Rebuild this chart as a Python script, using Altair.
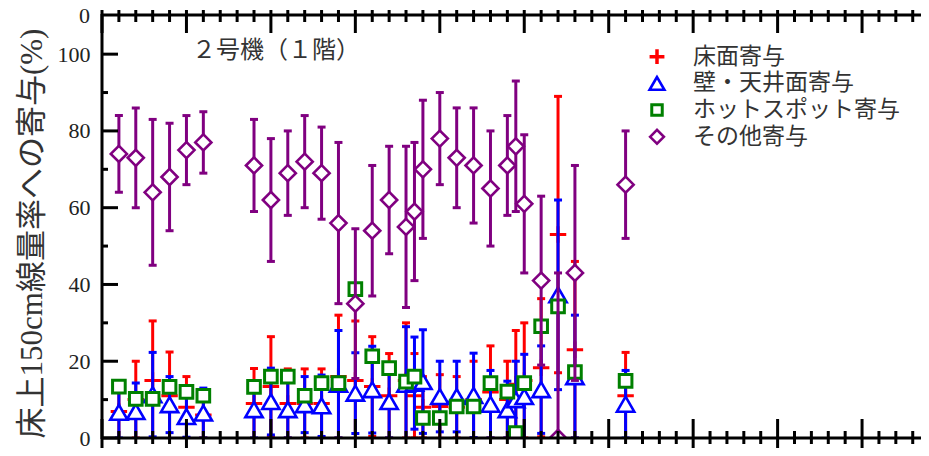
import altair as alt
import pandas as pd

# ---------------- data ----------------
X = [1, 2, 3, 4, 5, 6, 9, 10, 11, 12, 13, 14, 15, 16, 17, 18, 18.5, 19, 20, 21, 22,
     23, 24, 24.5, 25, 26, 27, 28, 31]

floor_v = [6.9, 10, 15, 11, 8, 6, 9, 13.4, 9, 9, 9, 16, 15, 13.4, 11, 15, 11, 8, 8.2,
           8, 10, 12, 10, 14, 15, 18.3, 53, 23, 11]
floor_e = [7, 10, 15.5, 11.4, 8, 6, 9.1, 13, 9, 9, 9, 16, 15.5, 13, 11, 15, 11, 8, 8.3,
           8, 10, 12, 10, 14, 15, 18, 36, 23, 11.3]

wall_v = [6.7, 6.9, 11.3, 8.7, 5.6, 6.5, 7.4, 9.5, 7.4, 8.7, 8.4, 14, 11.7, 12.6, 9.5,
          14, 14.3, 14.7, 10.8, 10.8, 11.1, 8.8, 7.4, 10, 10.8, 12.6, 37.3, 16, 8.8]
wall_e = [6.7, 7.4, 11, 7.3, 5.4, 6.5, 7.4, 8.7, 7.4, 7.3, 8, 14, 10.5, 11.3, 9.5,
          15, 12, 13.5, 9.2, 9.2, 11, 8.8, 7.4, 10, 11, 11.4, 24.7, 16, 8.8]

hot_v = [13.4, 10.2, 10.2, 13.3, 12, 11, 13.3, 16, 16, 11, 14.3, 14.3, 38.8, 21.3,
         18.2, 14.7, 16, 5.2, 5.2, 8.2, 8.2, 14.3, 12.1, 1.3, 14.3, 29.1, 34.3, 17.2, 14.9]

other_v = [74, 73, 64, 68, 75, 77, 71, 62, 69, 72, 69, 56, 35, 54, 62, 55, 59, 70, 78,
           73, 71, 65, 71, 76, 61, 41, 0, 43, 66]
other_e = [10, 13, 19, 14, 9, 8, 12, 16, 11, 12, 12, 21, 19.5, 17, 14, 21, 18, 18, 12,
           13, 15, 15, 13, 17, 18, 22, 43, 28, 14]

series_names = ["床面寄与", "壁・天井面寄与", "ホットスポット寄与", "その他寄与"]
series_colors = ["#ff0000", "#0000ff", "#008000", "#800080"]
panel_label = "２号機（１階）"
y_title = "床上150cm線量率への寄与(%)"
y_labels = [0, 20, 40, 60, 80, 100]
y_minor = [10, 30, 50, 70, 90]
top_label = "0"

# ---------------- layout ----------------
W, H = 819, 423
XMAX, YMAX = 48.49, 110.2
SERIF = "Liberation Serif"
CJK = "Liberation Serif, Noto Sans CJK JP"
PLUS = "M-1,0H1M0,-1V1"

xs = alt.Scale(domain=[0, XMAX], nice=False, zero=False)
ys = alt.Scale(domain=[0, YMAX], nice=False, zero=False)
yaxis = alt.Axis(values=y_labels, ticks=False, domain=False, grid=False,
                 labelFont=SERIF, labelFontSize=22, labelColor="#222",
                 labelPadding=12, title=y_title, titleFont=CJK, titleFontSize=31,
                 titleFontWeight="normal", titleColor="#333", titleAngle=270,
                 titleX=-70, titleY=218, titleAlign="center", titleBaseline="middle")


def xe(field="x"):
    return alt.X(f"{field}:Q", scale=xs, axis=None)


def ye(field):
    return alt.Y(f"{field}:Q", scale=ys, axis=yaxis)


def series(vals, errs, color, shape, size, sw, fill, bars=True):
    df = pd.DataFrame({"x": X, "v": vals})
    if errs is not None:
        df["lo"] = [v - e for v, e in zip(vals, errs)]
        df["hi"] = [v + e for v, e in zip(vals, errs)]
    base = alt.Chart(df)
    layers = []
    if bars:
        layers.append(base.mark_rule(color=color, strokeWidth=3, clip=True)
                      .encode(x=xe(), y=ye("lo"), y2="hi:Q"))
        for f in ["lo", "hi"]:
            layers.append(base.mark_tick(orient="horizontal", color=color, size=8,
                                         thickness=3, clip=True, opacity=1)
                          .encode(x=xe(), y=ye(f)))
    pm = dict(shape=shape, size=size, strokeWidth=sw, stroke=color, clip=True,
              opacity=1, filled=False)
    if fill:
        pm["fill"] = "white"
        pm["fillOpacity"] = 1
    layers.append(base.mark_point(**pm).encode(x=xe(), y=ye("v")))
    return layers


layers = []
layers += series(floor_v, floor_e, series_colors[0], PLUS, 270, 3, False)
layers += series(wall_v, wall_e, series_colors[1], "triangle-up", 300, 2.6, True)
layers += series(hot_v, None, series_colors[2], "square", 160, 3, True, bars=False)
layers += series(other_v, other_e, series_colors[3], "diamond", 260, 2.6, True)

# ---------------- frame & ticks ----------------
one = pd.DataFrame({"a": [0]})
frame = alt.Chart(one)
layers.append(frame.mark_rule(color="black", strokeWidth=3).encode(
    x=alt.value(0), x2=alt.value(W), y=alt.value(0)))
layers.append(frame.mark_rule(color="black", strokeWidth=3).encode(
    x=alt.value(0), x2=alt.value(W), y=alt.value(H)))
layers.append(frame.mark_rule(color="black", strokeWidth=3).encode(
    x=alt.value(0), y=alt.value(-1), y2=alt.value(H + 1)))

xt = list(range(0, 49))
minor_x = pd.DataFrame({"t": [t for t in xt if t % 5 != 0]})
major_x = pd.DataFrame({"t": [t for t in xt if t % 5 == 0]})
for df, (b0, b1), (t0, t1) in [(minor_x, (-7, 6), (-5, 7)), (major_x, (-19, 18), (-5, 18))]:
    c = alt.Chart(df)
    layers.append(c.mark_rule(color="black", strokeWidth=3).encode(
        x=xe("t"), y=alt.value(H + b0), y2=alt.value(H + b1)))
    layers.append(c.mark_rule(color="black", strokeWidth=3).encode(
        x=xe("t"), y=alt.value(t0), y2=alt.value(t1)))

for vals, ln in [(y_labels, 16), (y_minor, 6)]:
    c = alt.Chart(pd.DataFrame({"t": vals}))
    layers.append(c.mark_rule(color="black", strokeWidth=3).encode(
        x=alt.value(0), x2=alt.value(ln), y=ye("t")))

# ---------------- texts ----------------
layers.append(frame.mark_text(text=top_label, font=SERIF, fontSize=22, color="#222",
                              align="right", baseline="middle")
              .encode(x=alt.value(-12), y=alt.value(1)))
layers.append(frame.mark_text(text=panel_label, font="Noto Sans CJK JP", fontSize=24,
                              color="#333", align="left", baseline="middle")
              .encode(x=alt.value(90), y=alt.value(36)))

# ---------------- legend ----------------
leg_shapes = [(PLUS, 220, 3.5, False), ("triangle-up", 220, 2.6, True),
              ("square", 110, 3, True), ("diamond", 190, 2.6, True)]
for i, (name, col, (shp, sz, sw, fl)) in enumerate(zip(series_names, series_colors, leg_shapes)):
    yy = 41.7 + i * 26.7
    pm = dict(shape=shp, size=sz, strokeWidth=sw, stroke=col, opacity=1, filled=False)
    if fl:
        pm["fill"] = "white"
        pm["fillOpacity"] = 1
    layers.append(frame.mark_point(**pm).encode(x=alt.value(555), y=alt.value(yy)))
    layers.append(frame.mark_text(text=name, font="Noto Sans CJK JP", fontSize=23,
                                  color="#333", align="left", baseline="middle")
                  .encode(x=alt.value(591), y=alt.value(yy)))

chart = alt.layer(*layers).properties(
    width=W, height=H,
    padding={"left": 94, "top": 7, "right": 0, "bottom": 10},
    autosize=alt.AutoSizeParams(type="none"),
).configure_view(stroke=None).configure(background="white")

chart.save("out.html", embed_options={"renderer": "svg", "actions": False})
